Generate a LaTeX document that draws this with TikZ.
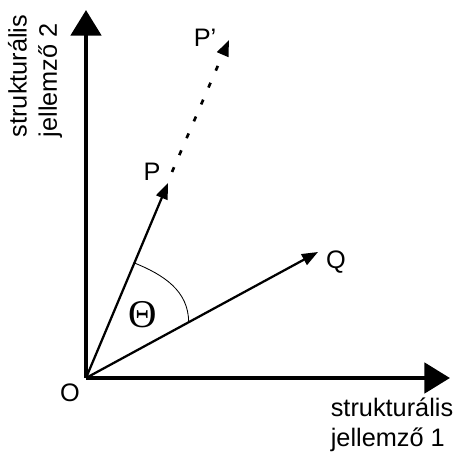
\documentclass[tikz,border=0pt]{standalone}
\usepackage{fontspec}
\setmainfont{Liberation Sans}
\newfontfamily\thetafont{Liberation Serif}
\usetikzlibrary{arrows.meta}

\begin{document}
\begin{tikzpicture}[xscale=1, yscale=1,
    axis/.style={line width=3.4pt, -{Triangle[width=0.75cm, length=0.64cm]}},
    vec/.style={line width=1.6pt, -{Triangle[width=0.3cm, length=0.4cm]}},
    lbl/.style={font=\fontsize{18}{21.5}\selectfont}]

    \useasboundingbox (-2.15,-1.95) rectangle (9.225,9.45);

    % points
    \coordinate (O) at (0,0);
    \coordinate (xend) at (9.1,0);
    \coordinate (yend) at (0,9.2);
    \coordinate (P) at (2.05,4.875);
    \coordinate (Pstart) at (2.15,5.15);
    \coordinate (Pp) at (3.575,8.45);
    \coordinate (Q) at (5.8,3.15);

    % axes
    \draw[axis] (O) -- (yend);
    \draw[axis] (O) -- (xend);

    % axis labels
    \node[lbl, align=left] (xlabel) at (7.65,-1.175) {strukturális\\jellemző 1};
    \node[lbl, align=left, rotate=90] (ylabel) at (-1.275,7.55) {strukturális\\jellemző 2};

    % vectors
    \draw[vec] (O) -- (P);
    \draw[vec] (O) -- (Q);
    \draw[line width=1.9pt, dash pattern=on 0.13cm off 0.33cm,
        -{Triangle[width=0.3cm, length=0.4cm]}] (Pstart) -- (Pp);

    % angle
    \coordinate (a1) at (67.2:3.12);
    \coordinate (a2) at (28.5:2.92);
    \draw[line width=0.6pt] (a1) to[out=-22, in=90] (a2);

    % point labels
    \node[lbl] (Olabel) at (-0.4,-0.375) {O};
    \node[lbl] (Plabel) at (1.65,5.15) {P};
    \node[lbl] (Pplabel) at (2.975,8.5) {P’};
    \node[lbl] (Qlabel) at (6.25,2.9) {Q};
    \node[font=\thetafont\fontsize{28}{32}\selectfont] (theta) at (1.425,1.575) {Θ};

\end{tikzpicture}
\end{document}
